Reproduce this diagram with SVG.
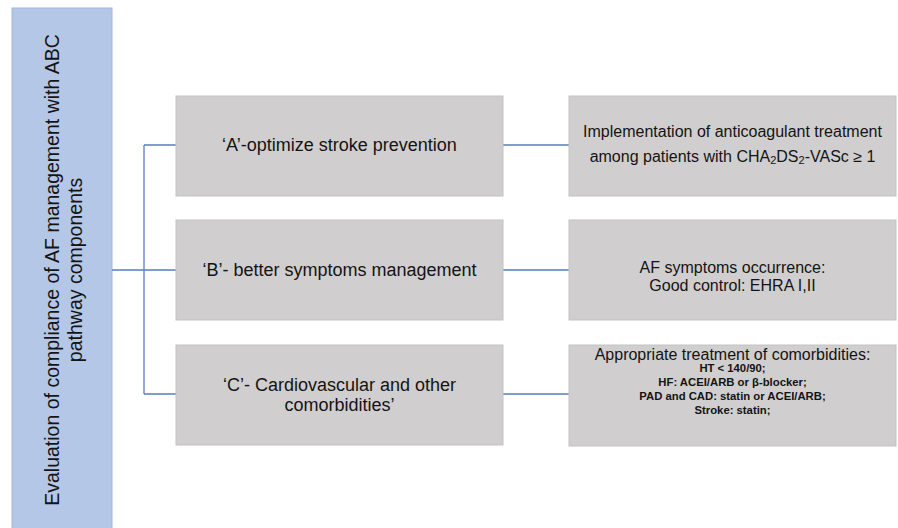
<svg xmlns="http://www.w3.org/2000/svg" width="898" height="528" viewBox="0 0 898 528">
<style>
.gbox{fill:#d0cece;stroke:#c3c3c3;stroke-width:1}
.t{font-family:"Liberation Sans",Arial,sans-serif;fill:#141414;text-anchor:middle;dominant-baseline:central}
.m{font-size:18px}
.r{font-size:16px}
.b{font-size:11.3px;font-weight:bold}
.conn{fill:none;stroke:#5a7cc2;stroke-width:1.3}
</style>
<rect width="898" height="528" fill="#ffffff"/>
<g id="root">
<rect x="12" y="8" width="100" height="530" fill="#b4c7e7" stroke="#9fb6df" stroke-width="1"/>
<text class="t" font-size="19.5" transform="translate(62 270) rotate(-90)"><tspan x="0" y="-10">Evaluation of compliance of AF management with ABC</tspan><tspan x="0" y="13">pathway components</tspan></text>
</g>
<g id="connectors">
<path class="conn" d="M112 270 H176 M144 145 V394 M144 145 H176 M144 394 H176"/>
<path class="conn" d="M503 145 H569 M503 270 H569 M503 394 H569"/>
</g>
<g id="nodeA">
<rect class="gbox" x="176" y="96" width="327" height="100"/>
<text class="t m" x="339.5" y="145">‘A’-optimize stroke prevention</text>
</g>
<g id="nodeB">
<rect class="gbox" x="176" y="220" width="327" height="100"/>
<text class="t m" x="339.5" y="270">‘B’- better symptoms management</text>
</g>
<g id="nodeC">
<rect class="gbox" x="176" y="345" width="327" height="100"/>
<text class="t m" x="339.5" y="385">‘C’- Cardiovascular and other</text>
<text class="t m" x="339.5" y="405">comorbidities’</text>
</g>
<g id="detailA">
<rect class="gbox" x="569" y="96" width="327" height="100"/>
<text class="t r" x="732.5" y="131">Implementation of anticoagulant treatment</text>
<text class="t r" x="732.5" y="156">among patients with CHA<tspan font-size="11" dy="4">2</tspan><tspan dy="-4">DS</tspan><tspan font-size="11" dy="4">2</tspan><tspan dy="-4">-VASc ≥ 1</tspan></text>
</g>
<g id="detailB">
<rect class="gbox" x="569" y="220" width="327" height="100"/>
<text class="t r" x="732.5" y="267">AF symptoms occurrence:</text>
<text class="t r" x="732.5" y="285">Good control: EHRA I,II</text>
</g>
<g id="detailC">
<rect class="gbox" x="569" y="345" width="327" height="101"/>
<text class="t r" x="732.5" y="354">Appropriate treatment of comorbidities:</text>
<text class="t b" x="732.5" y="368">HT &lt; 140/90;</text>
<text class="t b" x="732.5" y="382">HF: ACEI/ARB or β-blocker;</text>
<text class="t b" x="732.5" y="396">PAD and CAD: statin or ACEI/ARB;</text>
<text class="t b" x="732.5" y="410">Stroke: statin;</text>
</g>
</svg>
